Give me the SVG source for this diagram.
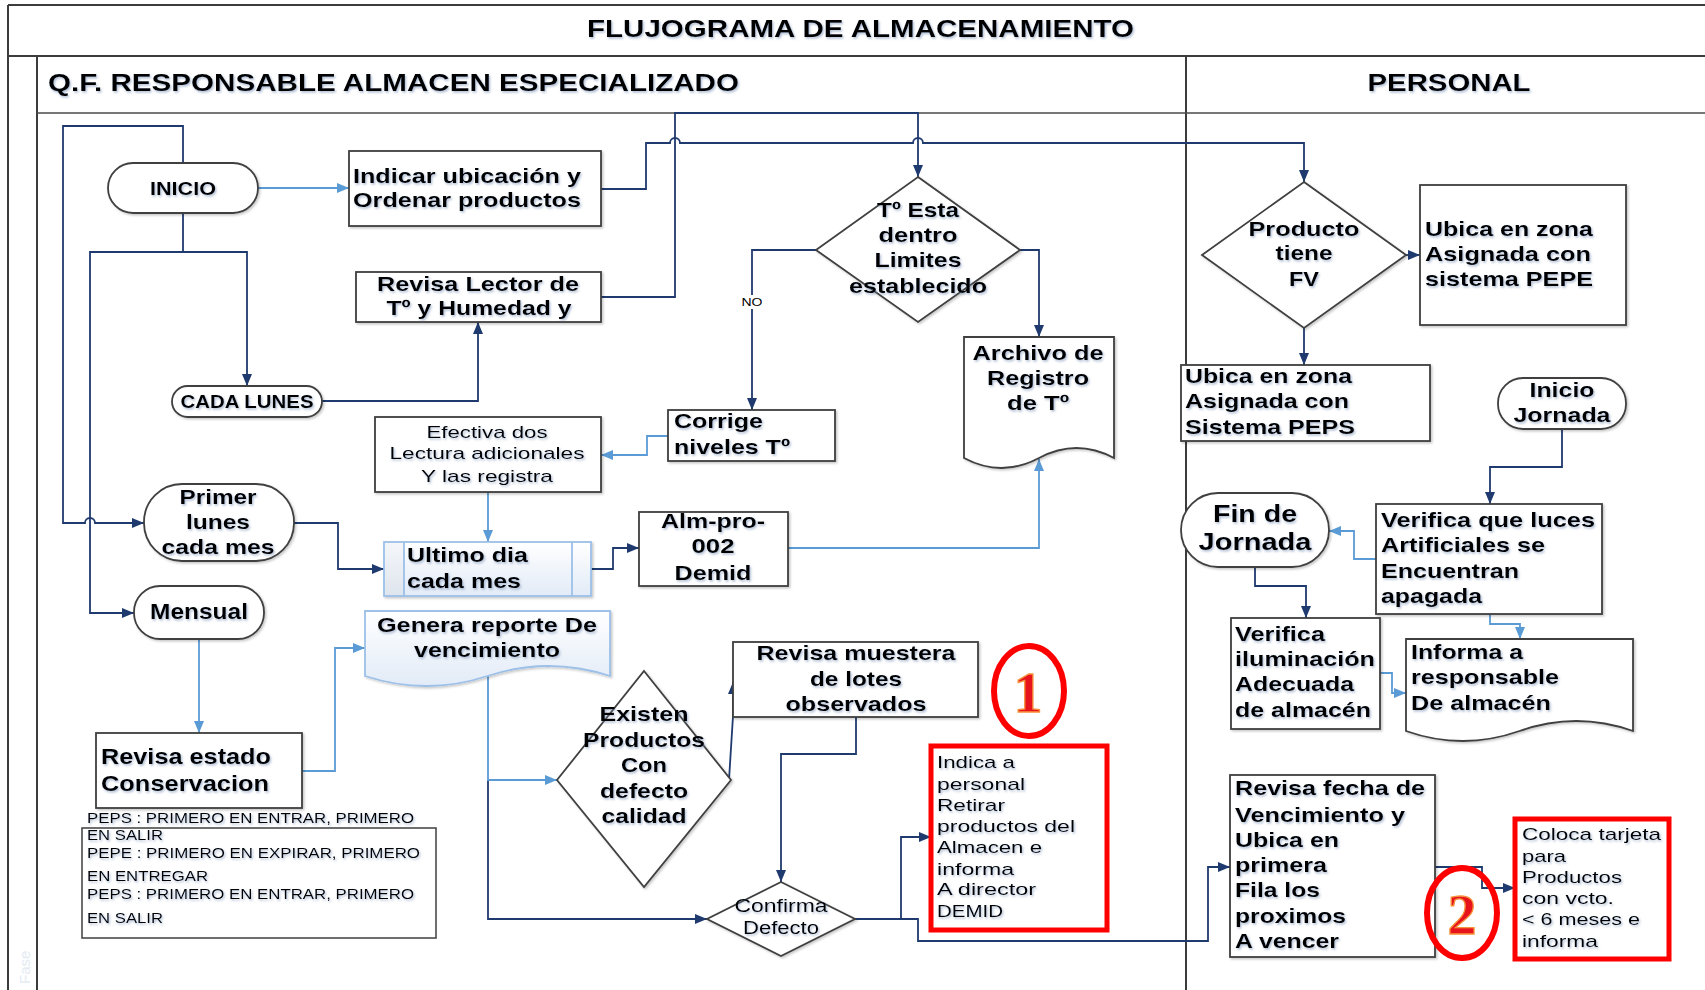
<svg xmlns="http://www.w3.org/2000/svg" width="1705" height="990" viewBox="0 0 1705 990">
  <defs>
    <style>
      .frame { fill: none; stroke: #3c3c3c; stroke-width: 2; }
      .box { fill: #ffffff; stroke: #3f3f3f; stroke-width: 1.8; filter: url(#boxShadow); }
      .soft { fill: url(#paleBlue); stroke: #9cc0e8; stroke-width: 1.8; filter: url(#boxShadow); }
      .redbox { fill: #ffffff; stroke: #ff0000; stroke-width: 5; }
      .ring { fill: none; stroke: #ff0000; stroke-width: 6; }
      text { font-family: "Liberation Sans", Arial, sans-serif; fill: #000000; }
      .num { font-family: "Liberation Serif", "Times New Roman", serif; font-weight: bold; font-size: 58px; fill: #e8141c; stroke: #f7923c; stroke-width: 1.3; text-anchor: middle; }
      .faint { fill: #e3eaf3; font-size: 15px; }
      .lbl { filter: url(#textShadow); }
      .b { font-weight: bold; font-size: 21px; }
      .bh { font-weight: bold; font-size: 24px; }
      .bs { font-weight: bold; font-size: 19px; }
      .n { font-size: 17px; }
      .ns { font-size: 15px; }
      .m { text-anchor: middle; }
      .dk { fill: none; stroke: #1f3a6e; stroke-width: 1.8; }
      .lt { fill: none; stroke: #5b9bd5; stroke-width: 1.8; }
      .dka { marker-end: url(#arrowDark); }
      .lta { marker-end: url(#arrowLight); }
    </style>
    <linearGradient id="paleBlue" x1="0" y1="0" x2="0" y2="1">
      <stop offset="0" stop-color="#ffffff"/>
      <stop offset="1" stop-color="#e2ebf7"/>
    </linearGradient>
    <linearGradient id="stripGrey" x1="0" y1="0" x2="0" y2="1">
      <stop offset="0" stop-color="#f4f6f9"/>
      <stop offset="1" stop-color="#dfe5ee"/>
    </linearGradient>
    <filter id="textShadow" x="-5%" y="-20%" width="110%" height="150%">
      <feDropShadow dx="1.2" dy="1.6" stdDeviation="0.9" flood-color="#6d86ad" flood-opacity="0.55"/>
    </filter>
    <filter id="boxShadow" x="-5%" y="-5%" width="110%" height="115%">
      <feDropShadow dx="1.5" dy="1.5" stdDeviation="1" flood-color="#000000" flood-opacity="0.22"/>
    </filter>
    <marker id="arrowDark" viewBox="0 0 12 10" refX="12" refY="5" markerWidth="12" markerHeight="10" markerUnits="userSpaceOnUse" orient="auto">
      <path d="M0,0 L12,5 L0,10 Z" fill="#1f3a6e"/>
    </marker>
    <marker id="arrowLight" viewBox="0 0 12 10" refX="12" refY="5" markerWidth="12" markerHeight="10" markerUnits="userSpaceOnUse" orient="auto">
      <path d="M0,0 L12,5 L0,10 Z" fill="#5b9bd5"/>
    </marker>
  </defs>

  <rect x="0" y="0" width="1705" height="990" fill="#ffffff"/>

  <!-- pool and swimlanes -->
  <g id="pool">
    <path class="frame" d="M8,5 H1705 M8,5 V990 M8,56 H1705 M37,56 V990 M1186,56 V990"/>
    <path d="M37,113 H1705" fill="none" stroke="#4a4a4a" stroke-width="1.6"/>
    <text class="lbl bh" x="587" y="37" textLength="547" lengthAdjust="spacingAndGlyphs">FLUJOGRAMA DE ALMACENAMIENTO</text>
    <text class="lbl bh" x="48" y="91" textLength="691" lengthAdjust="spacingAndGlyphs">Q.F. RESPONSABLE ALMACEN ESPECIALIZADO</text>
    <text class="lbl bh m" x="1449" y="91" textLength="163" lengthAdjust="spacingAndGlyphs">PERSONAL</text>
    <text class="faint" x="0" y="0" transform="translate(30,984) rotate(-90)">Fase</text>
  </g>

  <!-- connectors -->
  <g id="connectors">
    <path class="dk dka" d="M183,163 V126 H63 V523 H85 A5,5 0 0 1 95,523 H144"/>
    <path class="dk dka" d="M183,213 V252 H247 V386"/>
    <path class="dk dka" d="M183,252 H90 V613 H134"/>
    <path class="dk dka" d="M322,401 H478 V322"/>
    <path class="dk dka" d="M601,189 H646 V143 H670 A5,5 0 0 1 680,143 H913 A5,5 0 0 1 923,143 H1304 V182"/>
    <path class="dk dka" d="M601,297 H675 V113 H918 V177"/>
    <path class="dk dka" d="M816,250 H752 V410"/>
    <rect x="741" y="295" width="23" height="14" fill="#ffffff"/>
    <text x="752" y="306" font-size="11" class="m" textLength="21" lengthAdjust="spacingAndGlyphs">NO</text>
    <path class="dk dka" d="M1020,250 H1039 V337"/>
    <path class="dk dka" d="M294,523 H338 V569 H384" stroke-width="2.4"/>
    <path class="dk dka" d="M591,569 H613 V548 H639"/>
    <path class="dk dka" d="M729,780 L733,716 V682"/>
    <path class="dk dka" d="M856,717 V754 H781 V882"/>
    <path class="dk dka" d="M855,919 H901 V837 H931"/>
    <path class="dk dka" d="M855,919 H918 V941 H1208 V867 H1230"/>
    <path class="dk dka" d="M488,780 V919 H707"/>
    <path class="dk dka" d="M1406,255 H1420"/>
    <path class="dk dka" d="M1304,328 V365"/>
    <path class="dk dka" d="M1562,429 V467 H1490 V504"/>
    <path class="dk dka" d="M1255,567 V586 H1306 V618"/>
    <path class="dk dka" d="M1435,867 H1482 V888 H1515"/>

    <path class="lt lta" d="M199,639 V733"/>
    <path class="lt lta" d="M258,188 H349"/>
    <path class="lt lta" d="M668,436 H647 V455 H601"/>
    <path class="lt lta" d="M488,492 V542"/>
    <path class="lt lta" d="M788,548 H1039 V459"/>
    <path class="lt lta" d="M488,676 V780 H557"/>
    <path class="lt lta" d="M302,771 H335 V648 H365"/>
    <path class="lt lta" d="M1376,559 H1354 V531 H1329"/>
    <path class="lt lta" d="M1490,614 V624 H1520 V639"/>
    <path class="lt lta" d="M1380,673 H1392 V693 H1406"/>
  </g>

  <!-- QF lane -->
  <g id="inicio">
    <rect class="box" x="108" y="163" width="150" height="50" rx="25"/>
    <text class="lbl bs m" x="183" y="195" textLength="66" lengthAdjust="spacingAndGlyphs">INICIO</text>
  </g>

  <g id="indicar-ubicacion">
    <rect class="box" x="349" y="151" width="252" height="75"/>
    <text class="lbl b" x="353" y="183" textLength="228" lengthAdjust="spacingAndGlyphs">Indicar ubicación y</text>
    <text class="lbl b" x="353" y="207" textLength="228" lengthAdjust="spacingAndGlyphs">Ordenar productos</text>
  </g>

  <g id="revisa-lector">
    <rect class="box" x="356" y="272" width="245" height="50"/>
    <text class="lbl b m" x="478" y="291" textLength="202" lengthAdjust="spacingAndGlyphs">Revisa Lector de</text>
    <text class="lbl b m" x="479" y="315" textLength="185" lengthAdjust="spacingAndGlyphs">Tº y Humedad y</text>
  </g>

  <g id="cada-lunes">
    <rect class="box" x="172" y="386" width="150" height="31" rx="15.5"/>
    <text class="lbl bs m" x="247" y="408" textLength="133" lengthAdjust="spacingAndGlyphs">CADA LUNES</text>
  </g>

  <g id="primer-lunes">
    <rect class="box" x="144" y="484" width="150" height="77" rx="38"/>
    <text class="lbl b m" x="218" y="504" textLength="77" lengthAdjust="spacingAndGlyphs">Primer</text>
    <text class="lbl b m" x="218" y="529" textLength="64" lengthAdjust="spacingAndGlyphs">lunes</text>
    <text class="lbl b m" x="218" y="554" textLength="113" lengthAdjust="spacingAndGlyphs">cada mes</text>
  </g>

  <g id="mensual">
    <rect class="box" x="134" y="586" width="130" height="53" rx="26"/>
    <text class="lbl m" x="199" y="619" font-weight="bold" font-size="22" textLength="98" lengthAdjust="spacingAndGlyphs">Mensual</text>
  </g>

  <g id="revisa-estado">
    <rect class="box" x="96" y="733" width="206" height="75"/>
    <text class="lbl" x="101" y="764" font-weight="bold" font-size="22" textLength="170" lengthAdjust="spacingAndGlyphs">Revisa estado</text>
    <text class="lbl" x="101" y="791" font-weight="bold" font-size="22" textLength="168" lengthAdjust="spacingAndGlyphs">Conservacion</text>
  </g>

  <g id="leyenda">
    <rect x="82" y="828" width="354" height="110" fill="#ffffff" stroke="#3f3f3f" stroke-width="1.5"/>
    <text class="lbl ns" x="87" y="823" textLength="327" lengthAdjust="spacingAndGlyphs">PEPS : PRIMERO EN ENTRAR, PRIMERO</text>
    <text class="lbl ns" x="87" y="840" textLength="76" lengthAdjust="spacingAndGlyphs">EN SALIR</text>
    <text class="lbl ns" x="87" y="858" textLength="333" lengthAdjust="spacingAndGlyphs">PEPE : PRIMERO EN EXPIRAR, PRIMERO</text>
    <text class="lbl ns" x="87" y="881" textLength="121" lengthAdjust="spacingAndGlyphs">EN ENTREGAR</text>
    <text class="lbl ns" x="87" y="899" textLength="327" lengthAdjust="spacingAndGlyphs">PEPS : PRIMERO EN ENTRAR, PRIMERO</text>
    <text class="lbl ns" x="87" y="923" textLength="76" lengthAdjust="spacingAndGlyphs">EN SALIR</text>
  </g>

  <g id="efectiva-lectura">
    <rect class="box" x="375" y="417" width="226" height="75"/>
    <text class="lbl n m" x="487" y="438" textLength="121" lengthAdjust="spacingAndGlyphs">Efectiva dos</text>
    <text class="lbl n m" x="487" y="459" textLength="195" lengthAdjust="spacingAndGlyphs">Lectura adicionales</text>
    <text class="lbl n m" x="487" y="482" textLength="132" lengthAdjust="spacingAndGlyphs">Y las registra</text>
  </g>

  <g id="corrige-niveles">
    <rect class="box" x="668" y="410" width="167" height="51"/>
    <text class="lbl b" x="674" y="428" textLength="89" lengthAdjust="spacingAndGlyphs">Corrige</text>
    <text class="lbl b" x="674" y="454" textLength="116" lengthAdjust="spacingAndGlyphs">niveles Tº</text>
  </g>

  <g id="ultimo-dia">
    <rect class="soft" x="384" y="542" width="207" height="54"/>
    <rect x="385" y="543" width="19" height="52" fill="url(#stripGrey)"/>
    <path d="M404,542 V596 M572,542 V596" fill="none" stroke="#9cc0e8" stroke-width="1.8"/>
    <text class="lbl b" x="407" y="562" textLength="121" lengthAdjust="spacingAndGlyphs">Ultimo dia</text>
    <text class="lbl b" x="407" y="588" textLength="114" lengthAdjust="spacingAndGlyphs">cada mes</text>
  </g>

  <g id="alm-pro">
    <rect class="box" x="639" y="512" width="149" height="74"/>
    <text class="lbl b m" x="713" y="528" textLength="104" lengthAdjust="spacingAndGlyphs">Alm-pro-</text>
    <text class="lbl b m" x="713" y="553" textLength="43" lengthAdjust="spacingAndGlyphs">002</text>
    <text class="lbl b m" x="713" y="580" textLength="77" lengthAdjust="spacingAndGlyphs">Demid</text>
  </g>

  <g id="genera-reporte">
    <path class="soft" d="M365,611 H610 V676 C569,662.7 528,662.7 487.5,676 C447,689.3 406,689.3 365,676 Z"/>
    <text class="lbl m" x="487" y="632" font-weight="bold" font-size="20" textLength="220" lengthAdjust="spacingAndGlyphs">Genera reporte De</text>
    <text class="lbl m" x="487" y="657" font-weight="bold" font-size="20" textLength="146" lengthAdjust="spacingAndGlyphs">vencimiento</text>
  </g>

  <g id="existen-defecto">
    <polygon class="box" points="644,671 731,780 644,887 557,780"/>
    <text class="lbl b m" x="644" y="721" textLength="89" lengthAdjust="spacingAndGlyphs">Existen</text>
    <text class="lbl b m" x="644" y="747" textLength="122" lengthAdjust="spacingAndGlyphs">Productos</text>
    <text class="lbl b m" x="644" y="772" textLength="46" lengthAdjust="spacingAndGlyphs">Con</text>
    <text class="lbl b m" x="644" y="798" textLength="88" lengthAdjust="spacingAndGlyphs">defecto</text>
    <text class="lbl b m" x="644" y="823" textLength="85" lengthAdjust="spacingAndGlyphs">calidad</text>
  </g>

  <g id="revisa-muestra">
    <rect class="box" x="733" y="642" width="245" height="75"/>
    <text class="lbl b m" x="856" y="660" textLength="199" lengthAdjust="spacingAndGlyphs">Revisa muestera</text>
    <text class="lbl b m" x="856" y="686" textLength="92" lengthAdjust="spacingAndGlyphs">de lotes</text>
    <text class="lbl b m" x="856" y="711" textLength="141" lengthAdjust="spacingAndGlyphs">observados</text>
  </g>

  <g id="confirma-defecto">
    <polygon class="box" points="781,882 855,919 781,956 707,919"/>
    <text class="lbl m" x="781" y="912" font-size="18" textLength="93" lengthAdjust="spacingAndGlyphs">Confirma</text>
    <text class="lbl m" x="781" y="934" font-size="18" textLength="76" lengthAdjust="spacingAndGlyphs">Defecto</text>
  </g>

  <g id="indica-personal">
    <rect class="redbox" x="931" y="746" width="176" height="184"/>
    <text class="lbl n" x="937" y="768" textLength="78" lengthAdjust="spacingAndGlyphs">Indica a</text>
    <text class="lbl n" x="937" y="790" textLength="88" lengthAdjust="spacingAndGlyphs">personal</text>
    <text class="lbl n" x="937" y="811" textLength="68" lengthAdjust="spacingAndGlyphs">Retirar</text>
    <text class="lbl n" x="937" y="832" textLength="138" lengthAdjust="spacingAndGlyphs">productos del</text>
    <text class="lbl n" x="937" y="853" textLength="105" lengthAdjust="spacingAndGlyphs">Almacen e</text>
    <text class="lbl n" x="937" y="875" textLength="77" lengthAdjust="spacingAndGlyphs">informa</text>
    <text class="lbl n" x="937" y="895" textLength="99" lengthAdjust="spacingAndGlyphs">A director</text>
    <text class="lbl n" x="937" y="917" textLength="66" lengthAdjust="spacingAndGlyphs">DEMID</text>
  </g>

  <g id="marca-1">
    <ellipse class="ring" cx="1029" cy="691" rx="35" ry="45"/>
    <text class="num" x="1028" y="712">1</text>
  </g>

  <g id="temperatura-limites">
    <polygon class="box" points="918,177 1020,250 918,322 816,250"/>
    <text class="lbl b m" x="918" y="217" textLength="82" lengthAdjust="spacingAndGlyphs">Tº Esta</text>
    <text class="lbl b m" x="918" y="242" textLength="79" lengthAdjust="spacingAndGlyphs">dentro</text>
    <text class="lbl b m" x="918" y="267" textLength="87" lengthAdjust="spacingAndGlyphs">Limites</text>
    <text class="lbl b m" x="918" y="293" textLength="138" lengthAdjust="spacingAndGlyphs">establecido</text>
  </g>

  <g id="archivo-registro">
    <path class="box" d="M964,337 H1114 V458 C1089,444.7 1064,444.7 1039,458 C1014,471.3 989,471.3 964,458 Z"/>
    <text class="lbl b m" x="1038" y="360" textLength="131" lengthAdjust="spacingAndGlyphs">Archivo de</text>
    <text class="lbl b m" x="1038" y="385" textLength="102" lengthAdjust="spacingAndGlyphs">Registro</text>
    <text class="lbl b m" x="1038" y="410" textLength="62" lengthAdjust="spacingAndGlyphs">de Tº</text>
  </g>

  <!-- PERSONAL lane -->
  <g id="producto-fv">
    <polygon class="box" points="1304,182 1406,255 1304,328 1202,255"/>
    <text class="lbl b m" x="1304" y="236" textLength="111" lengthAdjust="spacingAndGlyphs">Producto</text>
    <text class="lbl b m" x="1304" y="260" textLength="57" lengthAdjust="spacingAndGlyphs">tiene</text>
    <text class="lbl b m" x="1304" y="286" textLength="30" lengthAdjust="spacingAndGlyphs">FV</text>
  </g>

  <g id="ubica-pepe">
    <rect class="box" x="1420" y="185" width="206" height="140"/>
    <text class="lbl b" x="1425" y="236" textLength="168" lengthAdjust="spacingAndGlyphs">Ubica en zona</text>
    <text class="lbl b" x="1425" y="261" textLength="166" lengthAdjust="spacingAndGlyphs">Asignada con</text>
    <text class="lbl b" x="1425" y="286" textLength="168" lengthAdjust="spacingAndGlyphs">sistema PEPE</text>
  </g>

  <g id="ubica-peps">
    <rect class="box" x="1181" y="365" width="249" height="76"/>
    <text class="lbl b" x="1185" y="383" textLength="167" lengthAdjust="spacingAndGlyphs">Ubica en zona</text>
    <text class="lbl b" x="1185" y="408" textLength="164" lengthAdjust="spacingAndGlyphs">Asignada con</text>
    <text class="lbl b" x="1185" y="434" textLength="170" lengthAdjust="spacingAndGlyphs">Sistema PEPS</text>
  </g>

  <g id="inicio-jornada">
    <rect class="box" x="1498" y="378" width="128" height="51" rx="25"/>
    <text class="lbl b m" x="1562" y="397" textLength="65" lengthAdjust="spacingAndGlyphs">Inicio</text>
    <text class="lbl b m" x="1562" y="422" textLength="97" lengthAdjust="spacingAndGlyphs">Jornada</text>
  </g>

  <g id="fin-jornada">
    <rect class="box" x="1181" y="493" width="148" height="74" rx="37"/>
    <text class="lbl bh m" x="1255" y="522" textLength="84" lengthAdjust="spacingAndGlyphs">Fin de</text>
    <text class="lbl bh m" x="1255" y="550" textLength="113" lengthAdjust="spacingAndGlyphs">Jornada</text>
  </g>

  <g id="verifica-luces">
    <rect class="box" x="1376" y="504" width="226" height="110"/>
    <text class="lbl b" x="1381" y="527" textLength="214" lengthAdjust="spacingAndGlyphs">Verifica que luces</text>
    <text class="lbl b" x="1381" y="552" textLength="164" lengthAdjust="spacingAndGlyphs">Artificiales se</text>
    <text class="lbl b" x="1381" y="578" textLength="138" lengthAdjust="spacingAndGlyphs">Encuentran</text>
    <text class="lbl b" x="1381" y="603" textLength="101" lengthAdjust="spacingAndGlyphs">apagada</text>
  </g>

  <g id="verifica-iluminacion">
    <rect class="box" x="1231" y="618" width="149" height="111"/>
    <text class="lbl b" x="1235" y="641" textLength="90" lengthAdjust="spacingAndGlyphs">Verifica</text>
    <text class="lbl b" x="1235" y="666" textLength="140" lengthAdjust="spacingAndGlyphs">iluminación</text>
    <text class="lbl b" x="1235" y="691" textLength="119" lengthAdjust="spacingAndGlyphs">Adecuada</text>
    <text class="lbl b" x="1235" y="717" textLength="136" lengthAdjust="spacingAndGlyphs">de almacén</text>
  </g>

  <g id="informa-responsable">
    <path class="box" d="M1406,639 H1633 V731 C1595.2,717.7 1557.3,717.7 1519.5,731 C1481.7,744.3 1443.8,744.3 1406,731 Z"/>
    <text class="lbl b" x="1411" y="659" textLength="112" lengthAdjust="spacingAndGlyphs">Informa a</text>
    <text class="lbl b" x="1411" y="684" textLength="148" lengthAdjust="spacingAndGlyphs">responsable</text>
    <text class="lbl b" x="1411" y="710" textLength="140" lengthAdjust="spacingAndGlyphs">De almacén</text>
  </g>

  <g id="revisa-fecha">
    <rect class="box" x="1230" y="775" width="205" height="182"/>
    <text class="lbl b" x="1235" y="795" textLength="190" lengthAdjust="spacingAndGlyphs">Revisa fecha de</text>
    <text class="lbl b" x="1235" y="822" textLength="170" lengthAdjust="spacingAndGlyphs">Vencimiento y</text>
    <text class="lbl b" x="1235" y="847" textLength="104" lengthAdjust="spacingAndGlyphs">Ubica en</text>
    <text class="lbl b" x="1235" y="872" textLength="92" lengthAdjust="spacingAndGlyphs">primera</text>
    <text class="lbl b" x="1235" y="897" textLength="85" lengthAdjust="spacingAndGlyphs">Fila los</text>
    <text class="lbl b" x="1235" y="923" textLength="111" lengthAdjust="spacingAndGlyphs">proximos</text>
    <text class="lbl b" x="1235" y="948" textLength="104" lengthAdjust="spacingAndGlyphs">A vencer</text>
  </g>

  <g id="coloca-tarjeta">
    <rect class="redbox" x="1515" y="819" width="154" height="140"/>
    <text class="lbl n" x="1522" y="840" textLength="139" lengthAdjust="spacingAndGlyphs">Coloca tarjeta</text>
    <text class="lbl n" x="1522" y="862" textLength="44" lengthAdjust="spacingAndGlyphs">para</text>
    <text class="lbl n" x="1522" y="883" textLength="100" lengthAdjust="spacingAndGlyphs">Productos</text>
    <text class="lbl n" x="1522" y="904" textLength="92" lengthAdjust="spacingAndGlyphs">con vcto.</text>
    <text class="lbl n" x="1522" y="925" textLength="118" lengthAdjust="spacingAndGlyphs">&lt; 6 meses e</text>
    <text class="lbl n" x="1522" y="947" textLength="76" lengthAdjust="spacingAndGlyphs">informa</text>
  </g>

  <g id="marca-2">
    <ellipse class="ring" cx="1462" cy="913" rx="35" ry="45"/>
    <text class="num" x="1462" y="934">2</text>
  </g>
</svg>
